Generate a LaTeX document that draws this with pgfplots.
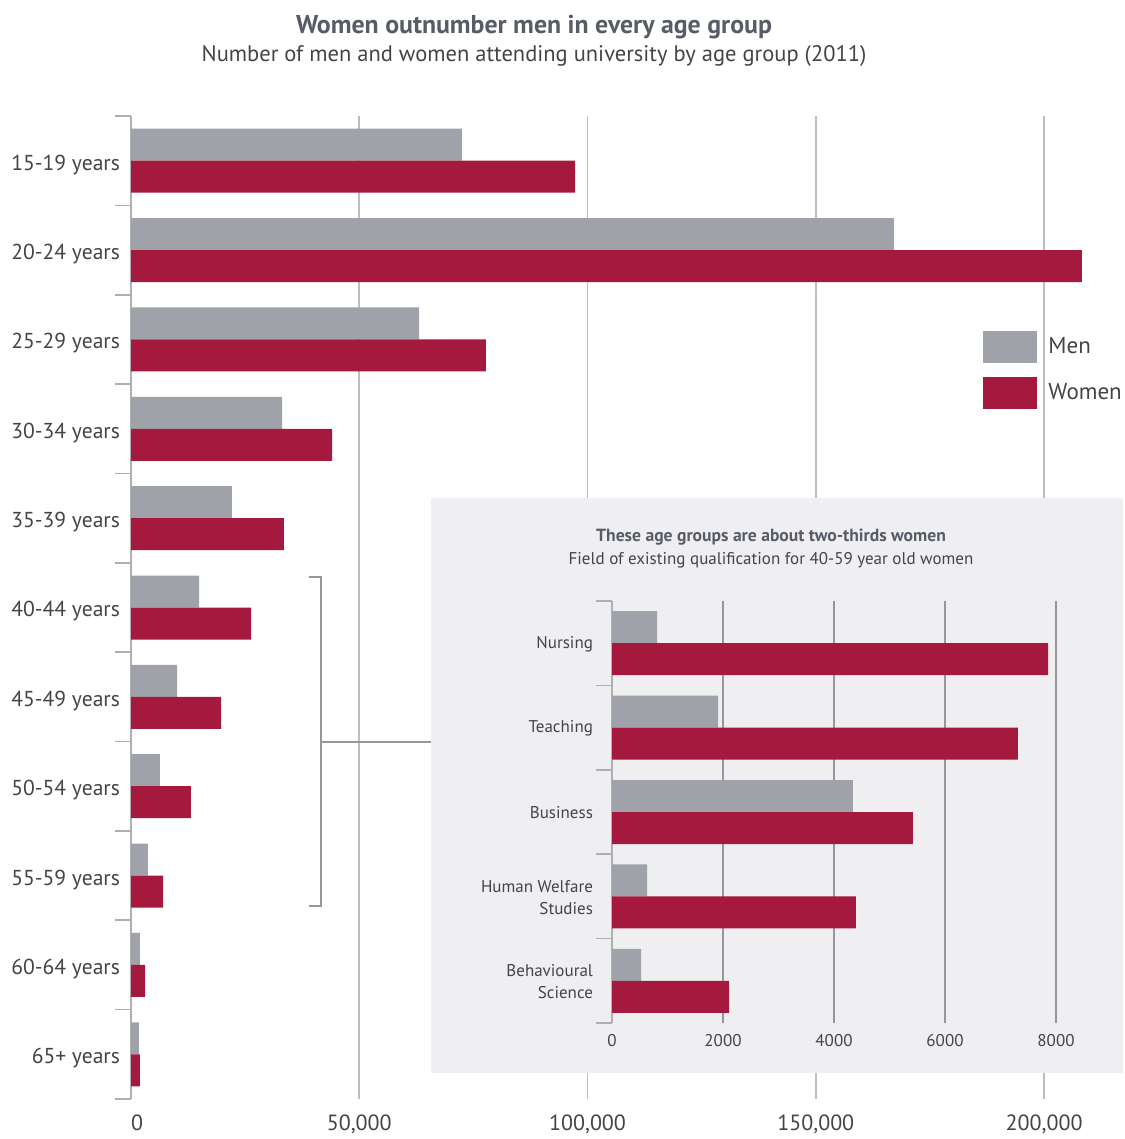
\documentclass[border=0pt]{standalone}
\usepackage{pgfplots}
\pgfplotsset{compat=1.18}
\usepackage{fontspec}
\setmainfont{PT Sans}
\definecolor{menc}{RGB}{160,162,170}
\definecolor{womc}{RGB}{166,25,62}
\definecolor{gridc}{RGB}{190,190,192}
\definecolor{axc}{RGB}{175,175,178}
\definecolor{txt}{RGB}{68,68,70}
\definecolor{ttl}{RGB}{88,92,102}
\definecolor{insetbg}{RGB}{239,239,241}
\definecolor{brk}{RGB}{150,150,155}
\begin{document}
\begin{tikzpicture}
\path[use as bounding box] (0pt,0pt) rectangle (562pt,-569.5pt);
% titles
\node[font=\bfseries\fontsize{12.9}{15}\selectfont, text=ttl] at (267pt,-13.5pt) {Women outnumber men in every age group};
\node[font=\fontsize{11.25}{13}\selectfont, text=txt] at (267pt,-28pt) {Number of men and women attending university by age group (2011)};
\begin{axis}[
  at={(65.5pt,-58pt)}, anchor=north west,
  scale only axis, width=479.35pt, height=491.5pt,
  xmin=0, xmax=210000, ymin=-0.5, ymax=10.5,
  xbar, bar width=16pt,
  axis lines*=left,
  x axis line style={draw=none},
  y axis line style={axc, line width=0.8pt},
  xtick={0,50000,100000,150000,200000},
  xticklabels={\hspace*{6pt}0,{50,000},{100,000},{150,000},{200,000}},
  xmajorgrids, grid style={gridc, line width=0.8pt},
  x tick style={draw=none},
  xticklabel style={font=\fontsize{11}{13}\selectfont, text=txt, yshift=-4.3pt},
  ytick={0,...,10},
  yticklabels={65+ years,60-64 years,55-59 years,50-54 years,45-49 years,40-44 years,35-39 years,30-34 years,25-29 years,20-24 years,15-19 years},
  minor ytick={-0.5,0.5,...,10.5},
  major tick length=0pt, minor tick length=8pt, tick align=outside,
  minor y tick style={axc, line width=0.8pt},
  yticklabel style={font=\fontsize{10.8}{12}\selectfont, text=txt, xshift=-2pt, yshift=-2pt},
  legend image code/.code={\fill[#1] (0pt,-8pt) rectangle (27pt,8pt);},
  legend style={draw=none, fill=none, at={(0.8887,0.7813)}, anchor=north west, inner sep=0pt, row sep=7pt, font=\fontsize{11.5}{13}\selectfont, text=txt, cells={anchor=west}, column sep=3.5pt},
]
\addplot[fill=menc, draw=none, bar shift=8pt] coordinates {
(1750,0) (1970,1) (3720,2) (6350,3) (10080,4) (14900,5) (22120,6) (33080,7) (63100,8) (167100,9) (72500,10)};
\addlegendentry{Men}
\addplot[fill=womc, draw=none, bar shift=-8pt] coordinates {
(1970,0) (3070,1) (7010,2) (13140,3) (19720,4) (26290,5) (33500,6) (44030,7) (77760,8) (208300,9) (97260,10)};
\addlegendentry{Women}
\end{axis}
% bracket
\begin{scope}[x=0.5pt,y=-0.5pt]
\draw[brk, line width=1pt] (309,577) -- (321,577) -- (321,906) -- (309,906);
\draw[brk, line width=1pt] (321,742) -- (431,742);
\fill[insetbg] (431,498) rectangle (1123,1073);
\node[font=\bfseries\fontsize{8.8}{10}\selectfont, text=ttl] at (771,537) {These age groups are about two-thirds women};
\node[font=\fontsize{8.5}{10}\selectfont, text=txt] at (771,560) {Field of existing qualification for 40-59 year old women};
\end{scope}
\begin{axis}[
  at={(306pt,-300.5pt)}, anchor=north west,
  scale only axis, width=222pt, height=211pt,
  xmin=0, xmax=8000, ymin=-0.5, ymax=4.5,
  xbar, bar width=16pt,
  axis lines*=left,
  x axis line style={draw=none},
  y axis line style={axc, line width=0.8pt},
  xtick={0,2000,4000,6000,8000},
  xticklabels={0,2000,4000,6000,8000},
  xmajorgrids, grid style={brk, line width=0.6pt},
  x tick style={draw=none},
  xticklabel style={font=\fontsize{8.5}{10}\selectfont, text=txt, yshift=-2pt},
  ytick={0,...,4},
  yticklabels={{Behavioural\\Science},{Human Welfare\\Studies},Business,Teaching,Nursing},
  minor ytick={-0.5,0.5,...,4.5},
  major tick length=0pt, minor tick length=8pt, tick align=outside,
  minor y tick style={axc, line width=0.8pt},
  yticklabel style={font=\fontsize{8.5}{11}\selectfont, text=txt, align=right, xshift=-6pt, yshift=-0.5pt},
]
\addplot[fill=menc, draw=none, bar shift=8pt] coordinates {
(523,0) (631,1) (4342,2) (1910,3) (811,4)};
\addplot[fill=womc, draw=none, bar shift=-8pt] coordinates {
(2108,0) (4396,1) (5423,2) (7315,3) (7856,4)};
\end{axis}
\end{tikzpicture}
\end{document}
